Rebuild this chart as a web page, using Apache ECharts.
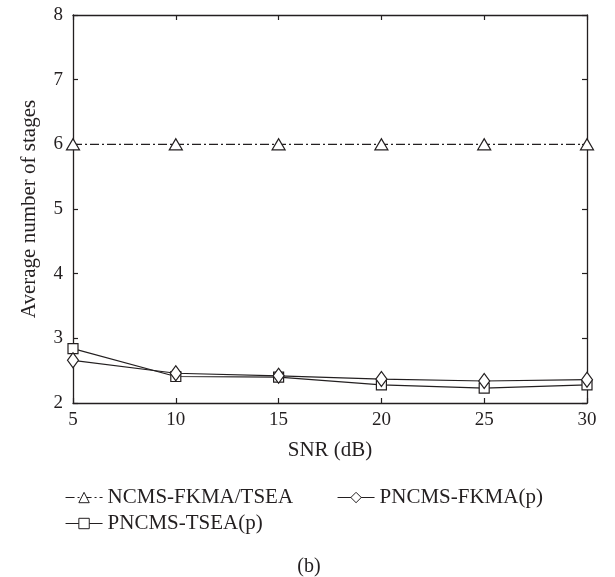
<!DOCTYPE html>
<html>
<head>
  <meta charset="UTF-8" />
  <title>Average number of stages vs SNR</title>
  <script src="https://cdn.jsdelivr.net/npm/echarts@6/dist/echarts.min.js"></script>
  <style>
    html, body { margin: 0; height: 100%; background: #fff; }
    #chart { width: 615px; height: 577px; }
  </style>
</head>
<body>
  <div id="chart"></div>
  <script>
    const snr = [5, 10, 15, 20, 25, 30];
    const ncmsFkmaTsea = [6, 6, 6, 6, 6, 6];
    const pncmsFkma = [2.66, 2.46, 2.42, 2.37, 2.34, 2.36];
    const pncmsTsea = [2.84, 2.41, 2.40, 2.28, 2.23, 2.28];
    const seriesNames = ['NCMS-FKMA/TSEA', 'PNCMS-FKMA(p)', 'PNCMS-TSEA(p)'];

    const font = '"Liberation Serif", "DejaVu Serif", serif';
    const ink = '#231f20';
    const chart = echarts.init(document.getElementById('chart'));

    const pairs = ys => snr.map((x, i) => [x, ys[i]]);

    const axisCommon = {
      type: 'value',
      axisLine: { show: true, lineStyle: { color: ink, width: 1.3 } },
      axisTick: { show: true, inside: true, length: 5, lineStyle: { color: ink, width: 1.2 } },
      splitLine: { show: false }
    };

    // legend icons: thin line, hollow marker
    const legendCommon = {
      orient: 'horizontal',
      itemWidth: 37,
      itemHeight: 13,
      itemGap: 10,
      itemStyle: { color: '#fff', borderColor: ink, borderWidth: 1 },
      lineStyle: { color: ink, width: 1.1 },
      textStyle: { fontFamily: font, fontSize: 21, color: ink },
      selectedMode: false
    };

    chart.setOption({
      backgroundColor: '#fff',
      animation: false,
      grid: { left: 73, right: 28, top: 15, bottom: 174 },
      xAxis: [
        Object.assign({}, axisCommon, {
          min: 5, max: 30, interval: 5,
          name: 'SNR (dB)',
          nameLocation: 'middle',
          nameGap: 37,
          nameTextStyle: { fontFamily: font, fontSize: 21, color: ink },
          axisLabel: { fontFamily: font, fontSize: 19, color: ink, margin: 8 }
        }),
        Object.assign({}, axisCommon, {
          position: 'top', min: 5, max: 30, interval: 5,
          axisLabel: { show: false }
        })
      ],
      yAxis: [
        Object.assign({}, axisCommon, {
          min: 2, max: 8, interval: 1,
          name: 'Average number of stages',
          nameLocation: 'middle',
          nameGap: 33,
          nameTextStyle: { fontFamily: font, fontSize: 21, color: ink },
          axisLabel: { fontFamily: font, fontSize: 19, color: ink, margin: 10 }
        }),
        Object.assign({}, axisCommon, {
          position: 'right', min: 2, max: 8, interval: 1,
          axisLabel: { show: false }
        })
      ],
      legend: [
        Object.assign({}, legendCommon, { data: [seriesNames[0]], left: 60, top: 482 }),
        Object.assign({}, legendCommon, { data: [seriesNames[1]], left: 332, top: 482 }),
        Object.assign({}, legendCommon, { data: [seriesNames[2]], left: 60, top: 508 })
      ],
      title: {
        text: '(b)',
        left: 304,
        top: 552,
        textAlign: 'center',
        textStyle: { fontFamily: font, fontSize: 20, fontWeight: 'normal', color: ink }
      },
      series: [
        {
          name: seriesNames[0],
          type: 'line',
          data: pairs(ncmsFkmaTsea),
          symbol: 'triangle',
          symbolSize: [13, 11],
          clip: false,
          lineStyle: { color: ink, width: 1.2, type: [9, 3, 2, 3] },
          itemStyle: { color: '#fff', borderColor: ink, borderWidth: 1.2 },
          z: 3
        },
        {
          name: seriesNames[2],
          type: 'line',
          data: pairs(pncmsTsea),
          symbol: 'rect',
          symbolSize: [10, 10],
          clip: false,
          lineStyle: { color: ink, width: 1.2 },
          itemStyle: { color: '#fff', borderColor: ink, borderWidth: 1.2 },
          z: 3
        },
        {
          name: seriesNames[1],
          type: 'line',
          data: pairs(pncmsFkma),
          symbol: 'diamond',
          symbolSize: [11, 15],
          clip: false,
          lineStyle: { color: ink, width: 1.2 },
          itemStyle: { color: '#fff', borderColor: ink, borderWidth: 1.2 },
          z: 4
        }
      ]
    });
  </script>
</body>
</html>
